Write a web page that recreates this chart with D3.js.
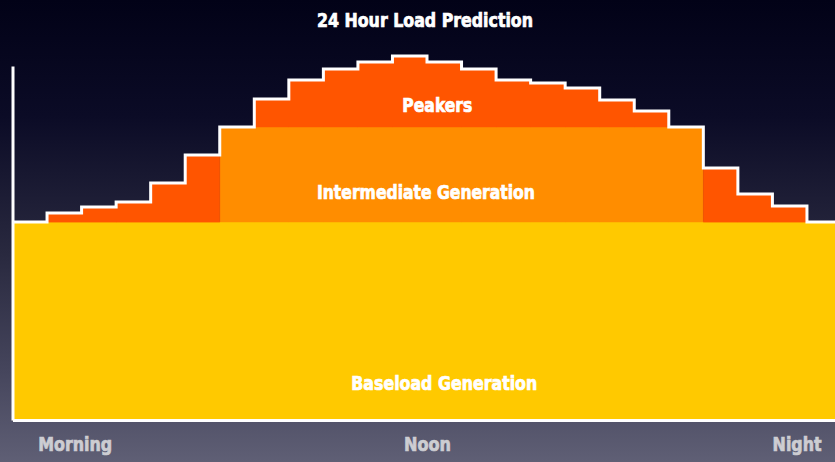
<!DOCTYPE html>
<html>
<head>
<meta charset="utf-8">
<script src="https://cdn.jsdelivr.net/npm/d3@7/dist/d3.min.js"></script>
<style>
  html, body { margin: 0; padding: 0; background: #000; }
  svg { display: block; }
  text { font-family: "Liberation Sans Narrow", "DejaVu Sans Condensed", "Liberation Sans", sans-serif; font-weight: bold; }
</style>
</head>
<body>
<svg id="chart" width="835" height="462"></svg>
<script>
// Hour of day for each one-hour block
const hours = [0, 1, 2, 3, 4, 5, 6, 7, 8, 9, 10, 11, 12, 13, 14, 15, 16, 17, 18, 19, 20, 21, 22, 23];

// Generation stacked per hour (GW)
const baseload     = [19.8, 19.8, 19.8, 19.8, 19.8, 19.8, 19.8, 19.8, 19.8, 19.8, 19.8, 19.8,
                      19.8, 19.8, 19.8, 19.8, 19.8, 19.8, 19.8, 19.8, 19.8, 19.8, 19.8, 19.8];
const intermediate = [0, 0, 0, 0, 0, 0, 9.5, 9.5, 9.5, 9.5, 9.5, 9.5,
                      9.5, 9.5, 9.5, 9.5, 9.5, 9.5, 9.5, 9.5, 0, 0, 0, 0];
const peakers      = [0, 0.9, 1.5, 2.0, 3.9, 6.7, 0, 2.8, 4.7, 5.8, 6.5, 7.1,
                      6.5, 5.8, 4.7, 4.4, 3.9, 2.7, 1.6, 0, 5.4, 2.8, 1.6, 0];

const seriesKeys   = ["baseload", "intermediate", "peakers"];
const seriesNames  = ["Baseload Generation", "Intermediate Generation", "Peakers"];

const timeLabels   = ["Morning", "Noon", "Night"];
const timeLabelAt  = [1.8, 12, 22.7];

const title = "24 Hour Load Prediction";
const axisTop = 35.4;

// Table for the stack; the last hour is repeated at 24 so steps close at the end of the day
const table = hours.map((h, i) => ({
  hour: h, baseload: baseload[i], intermediate: intermediate[i], peakers: peakers[i]
}));
table.push(Object.assign({}, table[table.length - 1], { hour: 24 }));

const svg = d3.select("#chart");
const W = 835, H = 462;

// Night-sky backdrop
const defs = svg.append("defs");
const grad = defs.append("linearGradient").attr("id", "bg")
  .attr("x1", 0).attr("y1", 0).attr("x2", 0).attr("y2", 1);
[["0%", "#020217"], ["25%", "#0b0b26"], ["55%", "#29293f"], ["80%", "#45455c"], ["100%", "#5f5f75"]]
  .forEach(([o, c]) => grad.append("stop").attr("offset", o).attr("stop-color", c));
svg.append("rect").attr("width", W).attr("height", H).attr("fill", "url(#bg)");

const x = d3.scaleLinear().domain([0, 24]).range([12.5, 841.5]);
const y = d3.scaleLinear().domain([0, 40]).range([420, 20]);

const colors = d3.scaleOrdinal().domain(seriesKeys).range(["#ffc900", "#ff8d00", "#ff5500"]);

const stacked = d3.stack().keys(seriesKeys)(table);

const area = d3.area()
  .curve(d3.curveStepAfter)
  .x(d => x(d.data.hour))
  .y0(d => y(d[0]))
  .y1(d => y(d[1]));

svg.append("g").selectAll("path")
  .data(stacked)
  .join("path")
  .attr("fill", d => colors(d.key))
  .attr("stroke", d => colors(d.key))
  .attr("stroke-width", 0.5)
  .attr("d", area);

// Total load outline
const line = d3.line()
  .curve(d3.curveStepAfter)
  .x(d => x(d.hour))
  .y(d => y(d.baseload + d.intermediate + d.peakers));

svg.append("path")
  .datum(table)
  .attr("fill", "none")
  .attr("stroke", "#fff")
  .attr("stroke-width", 3)
  .attr("d", line);

// Axes
const yAxisScale = d3.scaleLinear().domain([0, axisTop]).range([y(0), y(axisTop)]);
const yAxis = svg.append("g")
  .attr("transform", `translate(${x(0)},0)`)
  .call(d3.axisLeft(yAxisScale).tickValues([]).tickSizeOuter(0));
yAxis.select(".domain").attr("stroke", "#fff").attr("stroke-width", 3);

const xAxis = svg.append("g")
  .attr("transform", `translate(0,${y(0)})`)
  .call(d3.axisBottom(x)
    .tickValues(timeLabelAt)
    .tickFormat((d, i) => timeLabels[i])
    .tickSize(0)
    .tickSizeOuter(0)
    .tickPadding(17));
xAxis.select(".domain").attr("stroke", "#fff").attr("stroke-width", 3);
const labelWidths = [74, 47, 49];
xAxis.selectAll(".tick text")
  .attr("dy", "0.71em")
  .attr("font-size", 20)
  .attr("fill", "#cdcdd2")
  .attr("textLength", (d, i) => labelWidths[i])
  .attr("lengthAdjust", "spacingAndGlyphs")
  .attr("font-family", null)
  .attr("stroke", "#cdcdd2")
  .attr("stroke-width", 0.7);

// Series labels
const seriesLabelAnchor = [
  { hour: 12.5, value: 3.0, width: 186 },
  { hour: 11.97, value: 22.1, width: 218 },
  { hour: 12.3, value: 30.8, width: 70 }
];
svg.append("g").selectAll("text")
  .data(seriesNames)
  .join("text")
  .attr("x", (d, i) => x(seriesLabelAnchor[i].hour))
  .attr("y", (d, i) => y(seriesLabelAnchor[i].value))
  .attr("text-anchor", "middle")
  .attr("font-size", 20)
  .attr("fill", "#fff")
  .attr("stroke", "#fff")
  .attr("stroke-width", 0.7)
  .attr("textLength", (d, i) => seriesLabelAnchor[i].width)
  .attr("lengthAdjust", "spacingAndGlyphs")
  .text(d => d);

// Title
svg.append("text")
  .attr("x", 425)
  .attr("y", 27)
  .attr("text-anchor", "middle")
  .attr("font-size", 20)
  .attr("fill", "#fff")
  .attr("stroke", "#fff")
  .attr("stroke-width", 0.7)
  .attr("textLength", 216)
  .attr("lengthAdjust", "spacingAndGlyphs")
  .text(title);
</script>
</body>
</html>
